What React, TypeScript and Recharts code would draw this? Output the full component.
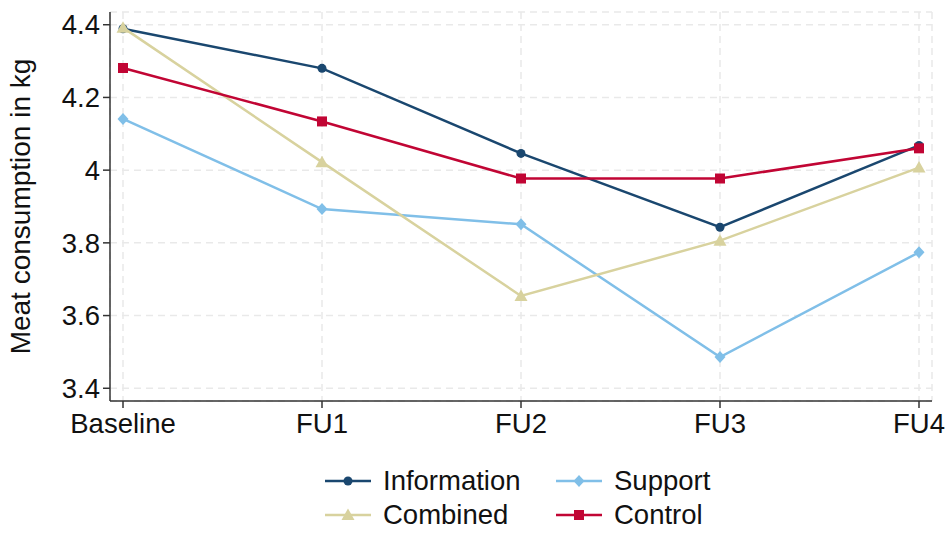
import React from 'react';
import { LineChart, Line, XAxis, YAxis, CartesianGrid } from 'recharts';

// Waves of the survey
const waves = ['Baseline', 'FU1', 'FU2', 'FU3', 'FU4'];

// Mean meat consumption (kg) per treatment group
const information = [4.389, 4.28, 4.046, 3.843, 4.068];
const support = [4.141, 3.893, 3.851, 3.486, 3.774];
const combined = [4.392, 4.022, 3.654, 3.806, 4.007];
const control = [4.281, 4.134, 3.977, 3.977, 4.06];

const yTicks = [3.4, 3.6, 3.8, 4, 4.2, 4.4];

const FONT = '"Liberation Sans", Arial, sans-serif';

const data = waves.map((w, i) => ({
  wave: w,
  information: information[i],
  support: support[i],
  combined: combined[i],
  control: control[i],
}));

type Shape = 'circle' | 'diamond' | 'triangle' | 'square';

const series: { key: string; name: string; color: string; shape: Shape }[] = [
  { key: 'information', name: 'Information', color: '#1a476f', shape: 'circle' },
  { key: 'support', name: 'Support', color: '#80bfe8', shape: 'diamond' },
  { key: 'combined', name: 'Combined', color: '#d8d29e', shape: 'triangle' },
  { key: 'control', name: 'Control', color: '#c10534', shape: 'square' },
];

const Marker = ({ cx, cy, shape, color }: { cx: number; cy: number; shape: Shape; color: string }) => {
  if (shape === 'circle') return <circle cx={cx} cy={cy} r={4.5} fill={color} />;
  if (shape === 'square') return <rect x={cx - 5} y={cy - 5} width={10} height={10} fill={color} />;
  if (shape === 'diamond')
    return <polygon points={`${cx},${cy - 6} ${cx + 5.5},${cy} ${cx},${cy + 6} ${cx - 5.5},${cy}`} fill={color} />;
  return <polygon points={`${cx},${cy - 6.5} ${cx + 6.5},${cy + 5} ${cx - 6.5},${cy + 5}`} fill={color} />;
};

const makeDot = (shape: Shape, color: string) => (props: any) => {
  const { cx, cy, index } = props;
  if (cx == null || cy == null) return <g key={index} />;
  return <Marker key={index} cx={cx} cy={cy} shape={shape} color={color} />;
};

const LegendItem = ({ s, x, y }: { s: (typeof series)[number]; x: number; y: number }) => (
  <div style={{ position: 'absolute', left: x, top: y, height: 30, display: 'flex', alignItems: 'center' }}>
    <svg width={48} height={20} style={{ display: 'block' }}>
      <line x1={1} y1={10} x2={47} y2={10} stroke={s.color} strokeWidth={2.5} />
      <Marker cx={24} cy={10} shape={s.shape} color={s.color} />
    </svg>
    <span style={{ marginLeft: 11, fontFamily: FONT, fontSize: 27.5, lineHeight: '26px', color: '#111' }}>{s.name}</span>
  </div>
);

export default function App() {
  return (
    <div style={{ position: 'absolute', left: 0, top: 0, width: 946, height: 533, background: '#fff', overflow: 'hidden' }}>
      <LineChart width={946} height={533} data={data} margin={{ top: 12, right: 14, left: 0, bottom: 92 }}>
        <CartesianGrid stroke="#e9e9e9" strokeWidth={1.5} strokeDasharray="7 5" horizontal vertical />
        <XAxis
          dataKey="wave"
          padding={{ left: 13, right: 13 }}
          height={40}
          stroke="#333"
          strokeWidth={1.5}
          tickSize={7}
          tickMargin={5}
          tick={{ fill: '#111', fontSize: 27.5, fontFamily: FONT }}
          interval={0}
        />
        <YAxis
          type="number"
          domain={[3.365, 4.435]}
          ticks={yTicks}
          allowDataOverflow
          width={110}
          stroke="#333"
          strokeWidth={1.5}
          tickSize={7}
          tickMargin={3}
          tickFormatter={(v: number) => String(v)}
          tick={{ fill: '#111', fontSize: 27.5, fontFamily: FONT }}
          label={{
            value: 'Meat consumption in kg',
            angle: -90,
            position: 'insideLeft',
            dx: 15,
            dy: 0,
            style: { fill: '#111', fontSize: 28, fontFamily: FONT, textAnchor: 'middle' },
          }}
        />
        {series.map((s) => (
          <Line
            key={s.key}
            type="linear"
            dataKey={s.key}
            name={s.name}
            stroke={s.color}
            strokeWidth={2.5}
            dot={makeDot(s.shape, s.color)}
            activeDot={false}
            isAnimationActive={false}
          />
        ))}
      </LineChart>
      <LegendItem s={series[0]} x={324} y={466} />
      <LegendItem s={series[1]} x={555} y={466} />
      <LegendItem s={series[2]} x={324} y={500} />
      <LegendItem s={series[3]} x={555} y={500} />
    </div>
  );
}
